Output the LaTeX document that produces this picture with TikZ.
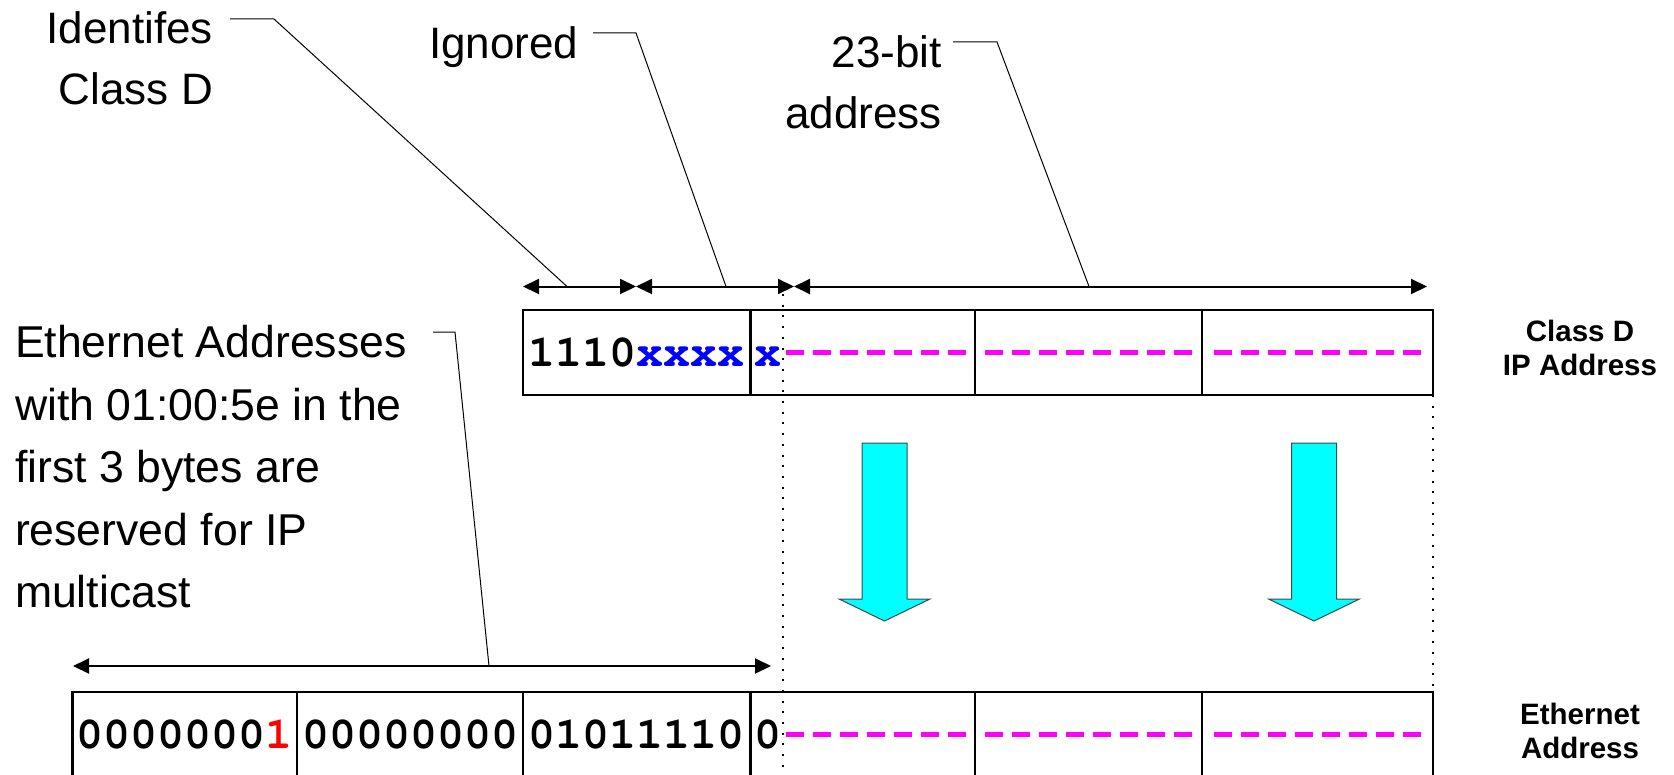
\documentclass[tikz,border=0pt]{standalone}
\usepackage{fontspec}
\setmainfont{Liberation Sans}
\newfontfamily\bitfont{texgyrecursor}[Extension=.otf,UprightFont=*-regular,BoldFont=*-bold]
\usetikzlibrary{arrows.meta}
\definecolor{bitBlue}{HTML}{0000FF}
\definecolor{bitRed}{HTML}{FF0000}
\definecolor{bitPad}{HTML}{FF00FF}
\definecolor{mapFill}{HTML}{00FFFF}
\definecolor{mapLine}{HTML}{3C4A50}
% one padding dash per bit, as wide as a digit
\newcommand{\padbits}[1]{\textcolor{bitPad}{\foreach \k in {1,...,#1}{\makebox[13.5pt]{\rule[5.4pt]{9pt}{2.6pt}}}}}

\begin{document}
\begin{tikzpicture}[
    x=0.5pt,y=-0.5pt,
    every node/.style={inner sep=0pt,outer sep=0pt},
    note/.style={font=\fontsize{22pt}{30.5pt}\selectfont,align=right},
    tag/.style={font=\fontsize{14.75pt}{17pt}\selectfont\bfseries,align=center},
    cell/.style={draw=black,line width=1.3pt,minimum height=42.5pt,font=\bitfont\bfseries\fontsize{22.5pt}{27pt}\selectfont,text height=13.7pt,text depth=0pt},
    dim/.style={{Triangle[length=8pt,width=7.5pt]}-{Triangle[length=8pt,width=7.5pt]},line width=1pt},
    leader/.style={line width=0.5pt},
    guide/.style={line width=1pt,dash pattern=on 1pt off 4.35pt},
    maparrow/.style={fill=mapFill,draw=mapLine,line width=0.5pt}
]
\clip (0,0) rectangle (1674,775);
% dotted guides
\coordinate (gTop) at (783,294);
\coordinate (gBot) at (783,775);
\draw[guide] (gTop) -- (gBot);
% class D address
\node[cell,minimum width=113.75pt] (ip1) at (636.75,352.5) {1110\textcolor{bitBlue}{xxxx}};
\node[cell,minimum width=112.25pt] (ip2) at (862.75,352.5) {\textcolor{bitBlue}{x}\padbits{7}};
\node[cell,minimum width=113.5pt] (ip3) at (1088.5,352.5) {\padbits{8}};
\node[cell,minimum width=115.5pt] (ip4) at (1317.5,352.5) {\padbits{8}};
% ethernet address
\node[cell,minimum width=112.2pt] (eth1) at (184.8,734.5) {0000000\textcolor{bitRed}{1}};
\node[cell,minimum width=113pt] (eth2) at (410,734.5) {00000000};
\node[cell,minimum width=113.75pt] (eth3) at (636.75,734.5) {01011110};
\node[cell,minimum width=112.25pt] (eth4) at (862.75,734.5) {0\padbits{7}};
\node[cell,minimum width=113.5pt] (eth5) at (1088.5,734.5) {\padbits{8}};
\node[cell,minimum width=115.5pt] (eth6) at (1317.5,734.5) {\padbits{8}};
\draw[guide] (ip4.south east) -- (eth6.north east);
\node[tag] (ipname) at (1580,348) {Class D\\IP Address};
\node[tag] (ethname) at (1580,731) {Ethernet\\Address};
% field widths
\coordinate (d0) at (523,286.5);
\coordinate (d1) at (636,286.5);
\coordinate (d2) at (794,286.5);
\coordinate (d3) at (1427,286.5);
\coordinate (e0) at (73,666);
\coordinate (e1) at (771,666);
\draw[dim] (d0) -- (d1);
\draw[dim] (d1) -- (d2);
\draw[dim] (d2) -- (d3);
\draw[dim] (e0) -- (e1);
% notes and their leaders
\node[note,anchor=north east] (idnote) at (213,11.6) {Identifes\\Class D};
\node[note,anchor=north west] (ignnote) at (429,27) {Ignored};
\node[note,anchor=north east] (bitnote) at (942,36) {23-bit\\address};
\node[note,align=left,anchor=north west,font=\fontsize{22.3pt}{31.2pt}\selectfont] (ethnote) at (15,325.5)
    {Ethernet Addresses\\with 01:00:5e in the\\first 3 bytes are\\reserved for IP\\multicast};
\coordinate (bId) at (274,19);
\coordinate (bIgn) at (636,33);
\coordinate (bBit) at (997,42);
\coordinate (bEth) at (455,332);
\coordinate (mId) at (567,286.5);
\coordinate (mIgn) at (726,286.5);
\coordinate (mBit) at (1089,286.5);
\coordinate (mEth) at (489,666);
\draw[leader] ([xshift=8.5pt]idnote.north east |- bId) -- (bId) -- (mId);
\draw[leader] ([xshift=7.5pt]ignnote.north east |- bIgn) -- (bIgn) -- (mIgn);
\draw[leader] ([xshift=5.5pt]bitnote.north east |- bBit) -- (bBit) -- (mBit);
\draw[leader] ([xshift=209pt]ethnote.north west |- bEth) -- (bEth) -- (mEth);
% mapping arrows
\foreach \cx in {884.5,1314}
  \draw[maparrow] (\cx-22.5,443) -- (\cx+22.5,443) -- (\cx+22.5,599) -- (\cx+45.5,599)
    -- (\cx,621) -- (\cx-45.5,599) -- (\cx-22.5,599) -- cycle;
\end{tikzpicture}
\end{document}
